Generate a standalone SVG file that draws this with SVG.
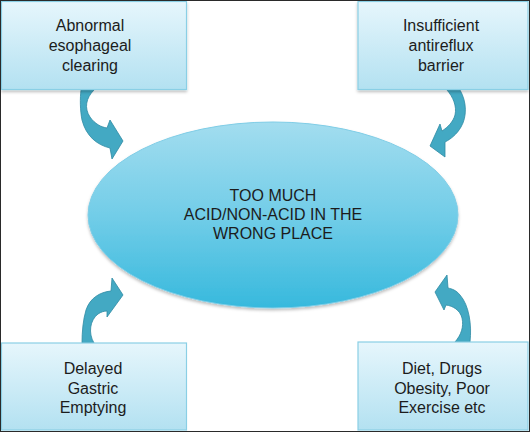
<svg xmlns="http://www.w3.org/2000/svg" width="530" height="432" viewBox="0 0 530 432">
<defs>
<linearGradient id="boxg" x1="0" y1="0" x2="0" y2="1">
<stop offset="0" stop-color="#e6f6fc"/>
<stop offset="1" stop-color="#b3e1f1"/>
</linearGradient>
<linearGradient id="ellg" x1="0" y1="0" x2="0" y2="1">
<stop offset="0" stop-color="#a3ddef"/>
<stop offset="0.5" stop-color="#72cde8"/>
<stop offset="1" stop-color="#37b9dd"/>
</linearGradient>
<linearGradient id="arrg" x1="0" y1="0" x2="0" y2="1">
<stop offset="0" stop-color="#2f8ea8"/>
<stop offset="1" stop-color="#47acc6"/>
</linearGradient>
<filter id="sh" x="-10%" y="-10%" width="120%" height="130%">
<feDropShadow dx="0" dy="2" stdDeviation="1.5" flood-color="#000" flood-opacity="0.25"/>
</filter>
</defs>
<style>
.box{fill:url(#boxg);stroke:#8acfe5;stroke-width:1.2}
.t{font-family:"Liberation Sans",Arial,sans-serif;font-size:16px;fill:#1c1c1c;text-anchor:middle}
.arr{fill:#43a9c3;stroke:#2f8aa3;stroke-width:0.8}
</style>
<rect x="0" y="0" width="530" height="432" fill="#ffffff"/>
<g id="connectors">
<path class="arr" d="M 81,90 L 94,90 C 86,98 84,108 90,117 C 95,124 101,127 107,128 L 110,120 L 123,141 L 112,159 L 110,148 C 97,145 86,136 82,120 C 80,110 80,98 81,90 Z"/>
<path class="arr" d="M 447,90 L 460,90 C 467,102 467,117 461,127 C 457,134 451,139 445,142 L 445,157 L 430,146 L 440,124 L 442,131 C 448,127 453,122 455,115 C 457,106 453,97 447,90 Z"/>
<path class="arr" d="M 82,343 L 94,343 C 88,333 90,320 98,314 C 101,312 104,311 107,311 L 107,317 L 123,295 L 112,278 L 111,291 C 100,292 90,298 86,310 C 83,320 82,332 82,343 Z"/>
<path class="arr" d="M 455,342 L 470,342 C 472,325 469,305 460,295 C 456,290 452,289 448,288 L 447,275 L 435,292 L 444,310 L 446,305 C 453,306 460,310 462,318 C 464,327 461,335 455,342 Z"/>
</g>
<g id="center">
<ellipse cx="273" cy="215" rx="185" ry="93" fill="url(#ellg)" stroke="#7fcde6" stroke-width="1" filter="url(#sh)"/>
<text class="t" x="273" y="201">TOO MUCH</text>
<text class="t" x="273" y="220">ACID/NON-ACID IN THE</text>
<text class="t" x="273" y="239">WRONG PLACE</text>
</g>
<g id="n1">
<rect class="box" x="1.5" y="1.5" width="185" height="88" filter="url(#sh)"/>
<text class="t" x="90" y="31">Abnormal</text>
<text class="t" x="90" y="51">esophageal</text>
<text class="t" x="90" y="71">clearing</text>
</g>
<g id="n2">
<rect class="box" x="358" y="1.5" width="170" height="88" filter="url(#sh)"/>
<text class="t" x="441" y="31">Insufficient</text>
<text class="t" x="441" y="51">antireflux</text>
<text class="t" x="441" y="71">barrier</text>
</g>
<g id="n3">
<rect class="box" x="1.5" y="343" width="185" height="87"/>
<text class="t" x="93" y="374">Delayed</text>
<text class="t" x="93" y="394">Gastric</text>
<text class="t" x="93" y="413">Emptying</text>
</g>
<g id="n4">
<rect class="box" x="358" y="342" width="170" height="88"/>
<text class="t" x="442" y="374">Diet, Drugs</text>
<text class="t" x="442" y="394">Obesity, Poor</text>
<text class="t" x="442" y="413">Exercise etc</text>
</g>
<rect x="0.5" y="0.5" width="529" height="431" fill="none" stroke="#2a2a2a" stroke-width="1"/>
</svg>
